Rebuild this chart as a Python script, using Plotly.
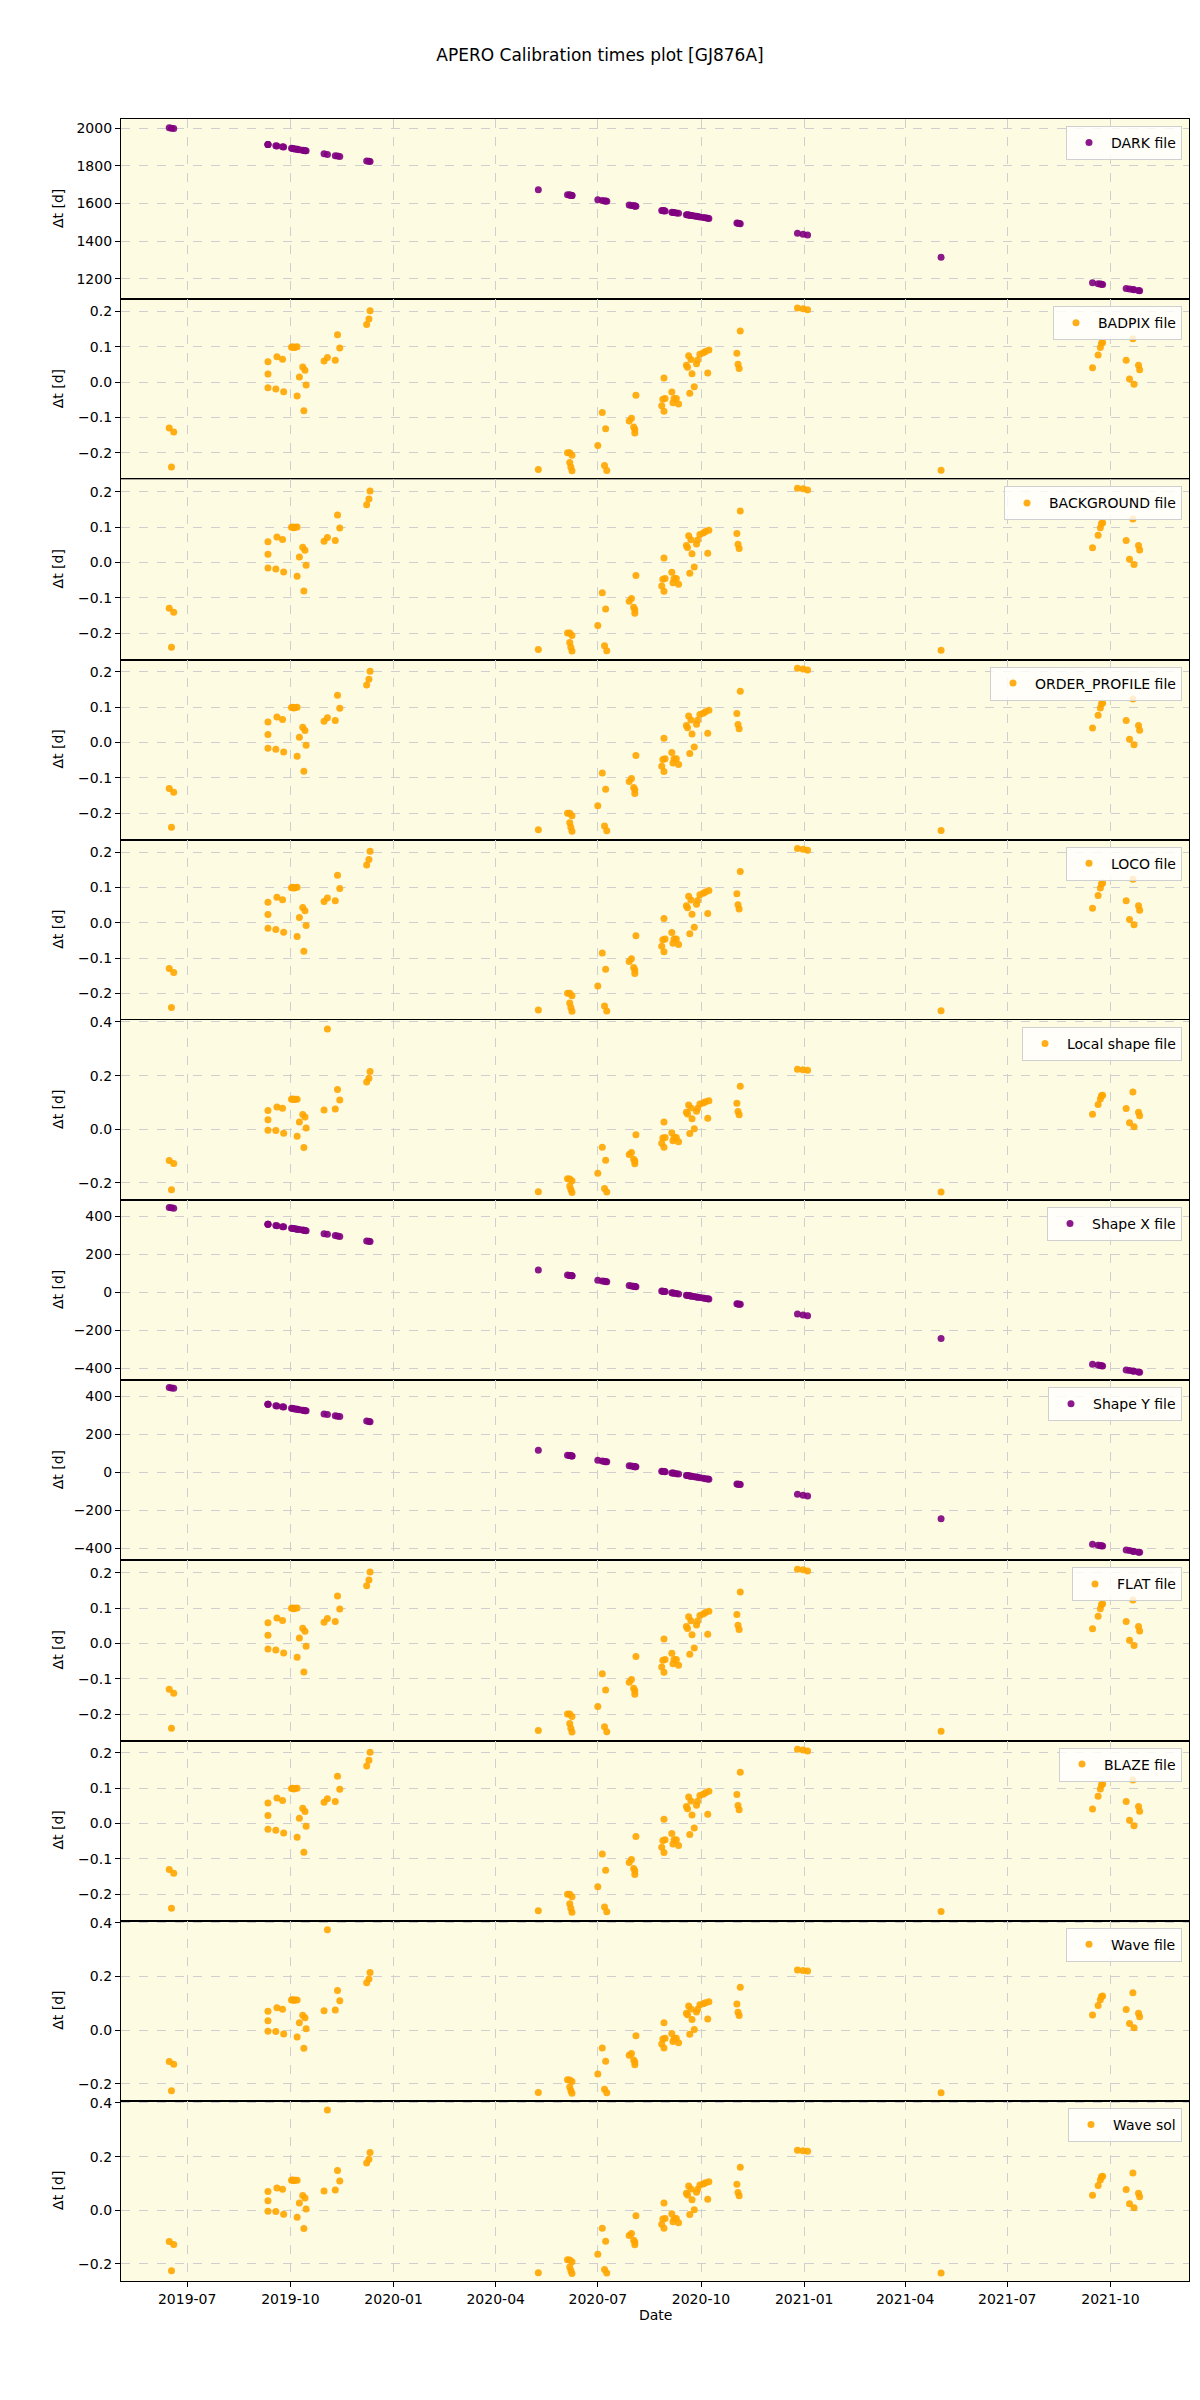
import plotly.graph_objects as go
from plotly.subplots import make_subplots

# ---------------- data ----------------
dates = [
    "2019-06-15", "2019-06-17", "2019-06-19", "2019-09-11", "2019-09-11", "2019-09-11",
    "2019-09-18", "2019-09-19", "2019-09-24", "2019-09-25", "2019-10-02", "2019-10-03",
    "2019-10-04", "2019-10-05", "2019-10-07", "2019-10-07", "2019-10-09", "2019-10-12",
    "2019-10-13", "2019-10-14", "2019-10-15", "2019-10-31", "2019-11-03", "2019-11-10",
    "2019-11-12", "2019-11-14", "2019-12-08", "2019-12-10", "2019-12-11",
    "2020-05-09", "2020-06-04", "2020-06-06", "2020-06-06", "2020-06-07", "2020-06-08",
    "2020-06-08", "2020-07-01", "2020-07-05", "2020-07-07", "2020-07-08", "2020-07-09",
    "2020-07-29", "2020-07-31", "2020-08-02", "2020-08-03", "2020-08-03", "2020-08-04",
    "2020-08-27", "2020-08-28", "2020-08-29", "2020-08-29", "2020-08-30", "2020-09-05",
    "2020-09-06", "2020-09-07", "2020-09-09", "2020-09-11", "2020-09-18", "2020-09-19",
    "2020-09-20", "2020-09-21", "2020-09-22", "2020-09-23", "2020-09-25", "2020-09-27",
    "2020-09-28", "2020-09-30", "2020-10-03", "2020-10-05", "2020-10-07", "2020-10-08",
    "2020-11-02", "2020-11-03", "2020-11-04", "2020-11-05", "2020-12-26", "2020-12-31",
    "2021-01-04", "2021-05-03", "2021-09-15", "2021-09-20", "2021-09-22", "2021-09-23",
    "2021-09-24", "2021-10-15", "2021-10-18", "2021-10-21", "2021-10-22", "2021-10-26",
    "2021-10-27",
]

dark_dt = [
    2002, 2000, 1998, 1914, 1914, 1914, 1907, 1906, 1901, 1900, 1893, 1892,
    1891, 1890, 1888, 1888, 1886, 1883, 1882, 1881, 1880, 1864, 1861, 1854,
    1852, 1850, 1826, 1824, 1823,
    1673, 1647, 1645, 1645, 1644, 1643, 1643, 1620, 1616, 1614, 1613, 1612,
    1592, 1590, 1588, 1587, 1587, 1586, 1563, 1562, 1561, 1561, 1560, 1554,
    1553, 1552, 1550, 1548, 1541, 1540, 1539, 1538, 1537, 1536, 1534, 1532,
    1531, 1529, 1526, 1524, 1522, 1521, 1496, 1495, 1494, 1493, 1442, 1437,
    1433, 1314, 1179, 1174, 1172, 1171, 1170, 1149, 1146, 1143, 1142, 1138,
    1137,
]

# BADPIX / BACKGROUND / ORDER_PROFILE / LOCO / FLAT / BLAZE
cal_dt = [
    -0.130, -0.240, -0.141, 0.058, 0.023, -0.016, -0.019, 0.072, 0.065, -0.027, 0.099, 0.100,
    0.098, 0.099, 0.100, -0.039, 0.015, 0.043, -0.081, 0.034, -0.008, 0.060, 0.070, 0.062,
    0.134, 0.097, 0.163, 0.179, 0.202,
    -0.247, -0.200, -0.200, -0.227, -0.240, -0.207, -0.251, -0.179, -0.086, -0.236, -0.132, -0.250,
    -0.110, -0.102, -0.127, -0.134, -0.144, -0.037, -0.067, -0.048, -0.082, 0.012, -0.046, -0.028,
    -0.058, -0.046, -0.046, -0.062, 0.048, 0.042, 0.075, -0.031, 0.064, 0.024, -0.013, 0.052,
    0.063, 0.079, 0.083, 0.087, 0.026, 0.091, 0.082, 0.051, 0.039, 0.145, 0.210, 0.208,
    0.205, -0.249, 0.041, 0.077, 0.098, 0.110, 0.112, 0.062, 0.009, 0.123, -0.006, 0.048,
    0.035,
]

# Local shape / Wave file / Wave sol
wave_dt = [
    -0.117, -0.226, -0.128, 0.070, 0.035, -0.004, -0.005, 0.083, 0.078, -0.015, 0.112, 0.113,
    0.111, 0.112, 0.112, -0.026, 0.027, 0.055, -0.068, 0.046, 0.005, 0.072, 0.374, 0.075,
    0.148, 0.109, 0.176, 0.190, 0.215,
    -0.233, -0.185, -0.186, -0.212, -0.225, -0.192, -0.236, -0.164, -0.067, -0.221, -0.116, -0.234,
    -0.094, -0.087, -0.112, -0.119, -0.129, -0.021, -0.052, -0.033, -0.067, 0.027, -0.031, -0.013,
    -0.043, -0.031, -0.031, -0.047, 0.063, 0.057, 0.090, -0.016, 0.079, 0.039, 0.002, 0.067,
    0.078, 0.094, 0.098, 0.102, 0.041, 0.106, 0.097, 0.066, 0.054, 0.160, 0.224, 0.222,
    0.220, -0.234, 0.056, 0.092, 0.113, 0.125, 0.127, 0.077, 0.024, 0.139, 0.009, 0.063,
    0.050,
]

# Shape X / Shape Y
shape_dt = [
    445, 443, 441, 357, 357, 357, 350, 349, 344, 343, 336, 335,
    334, 333, 331, 331, 329, 326, 325, 324, 323, 307, 304, 297,
    295, 293, 269, 267, 266,
    116, 90, 88, 88, 87, 86, 86, 63, 59, 57, 56, 55,
    35, 33, 31, 30, 30, 29, 6, 5, 4, 4, 3, -3,
    -4, -5, -7, -9, -16, -17, -18, -19, -20, -21, -23, -25,
    -26, -28, -31, -33, -35, -36, -61, -62, -63, -64, -115, -120,
    -124, -243, -378, -383, -385, -386, -387, -408, -411, -414, -415, -419,
    -420,
]

panel_labels = ["DARK file", "BADPIX file", "BACKGROUND file", "ORDER_PROFILE file",
                "LOCO file", "Local shape file", "Shape X file", "Shape Y file",
                "FLAT file", "BLAZE file", "Wave file", "Wave sol"]
panel_data = [dark_dt, cal_dt, cal_dt, cal_dt, cal_dt, wave_dt, shape_dt, shape_dt,
              cal_dt, cal_dt, wave_dt, wave_dt]
panel_kind = ["dark", "cal", "cal", "cal", "cal", "wave", "shape", "shape",
              "cal", "cal", "wave", "wave"]

PURPLE = "#800080"
ORANGE = "#FFA500"
BG = "#FDFBE1"
FONT = "DejaVu Sans"

styles = {
    "dark": dict(color=PURPLE, range=[1092, 2049], tick0=1200, dtick=200, fmt="d"),
    "cal": dict(color=ORANGE, range=[-0.275, 0.235], tick0=-0.2, dtick=0.1, fmt=".1f"),
    "wave": dict(color=ORANGE, range=[-0.264, 0.408], tick0=-0.2, dtick=0.2, fmt=".1f"),
    "shape": dict(color=PURPLE, range=[-462, 484], tick0=-400, dtick=200, fmt="d"),
}

N = len(panel_labels)
fig = make_subplots(rows=N, cols=1, shared_xaxes=True, vertical_spacing=0)

W, H = 1200, 2400
ML, MR, MT, MB = 121, 11, 119, 119
plot_h = H - MT - MB
plot_w = W - ML - MR

for i, (lab, vals, kind) in enumerate(zip(panel_labels, panel_data, panel_kind)):
    st = styles[kind]
    lname = "legend" if i == 0 else f"legend{i + 1}"
    fig.add_trace(
        go.Scatter(
            x=dates, y=vals, mode="markers", name=lab,
            marker=dict(color=st["color"], size=7, opacity=0.9, line=dict(width=0)),
            legend=lname, showlegend=True,
        ),
        row=i + 1, col=1,
    )
    yname = "yaxis" if i == 0 else f"yaxis{i + 1}"
    fig.layout[yname].update(
        range=st["range"], tick0=st["tick0"], dtick=st["dtick"], tickformat=st["fmt"],
        showgrid=True, gridcolor="#cfcfcf", griddash="dash", gridwidth=1,
        showline=True, mirror=True, linecolor="black", linewidth=1.2,
        ticks="outside", ticklen=5, tickcolor="black", automargin=False,
        tickfont=dict(family=FONT, size=14, color="black"), zeroline=False,
    )
    dom = fig.layout[yname].domain
    fig.layout[lname] = dict(
        x=1 - 7 / plot_w, y=dom[1] - 7 / plot_h, xanchor="right", yanchor="top",
        xref="paper", yref="paper",
        bgcolor="rgba(255,255,255,0.8)", bordercolor="#d0d0d0", borderwidth=1,
        font=dict(family=FONT, size=14, color="black"), itemwidth=34,
    )
    fig.add_annotation(
        text="Δt [d]", textangle=-90, showarrow=False,
        xref="paper", x=(58 - ML) / plot_w, xanchor="center",
        yref=("y domain" if i == 0 else f"y{i + 1} domain"), y=0.5, yanchor="middle",
        font=dict(family=FONT, size=14, color="black"),
    )

for i in range(N):
    xname = "xaxis" if i == 0 else f"xaxis{i + 1}"
    fig.layout[xname].update(
        range=["2019-05-03", "2021-12-10"], type="date",
        tick0="2019-07-01", dtick="M3", tickformat="%Y-%m",
        showgrid=True, gridcolor="#cfcfcf", griddash="dash", gridwidth=1,
        showline=True, mirror=True, linecolor="black", linewidth=1.2,
        ticks="outside", ticklen=5, tickcolor="black", automargin=False,
        tickfont=dict(family=FONT, size=14, color="black"), zeroline=False,
    )

fig.add_annotation(
    text="Date", showarrow=False, xref="paper", x=0.5, xanchor="center",
    yref="paper", y=-(2315 - (H - MB)) / plot_h, yanchor="middle",
    font=dict(family=FONT, size=14, color="black"),
)

fig.update_layout(
    width=W, height=H,
    margin=dict(l=ML, r=MR, t=MT, b=MB, autoexpand=False),
    paper_bgcolor="white", plot_bgcolor=BG,
    title=dict(text="APERO Calibration times plot [GJ876A]", x=0.5, xref="container",
               xanchor="center", y=1 - 55 / H, yref="container", yanchor="middle",
               font=dict(family=FONT, size=17, color="black")),
    font=dict(family=FONT, size=14, color="black"),
)

fig.write_html("out.html", config={"displayModeBar": False},
               post_script="document.body.style.margin='0px';")
